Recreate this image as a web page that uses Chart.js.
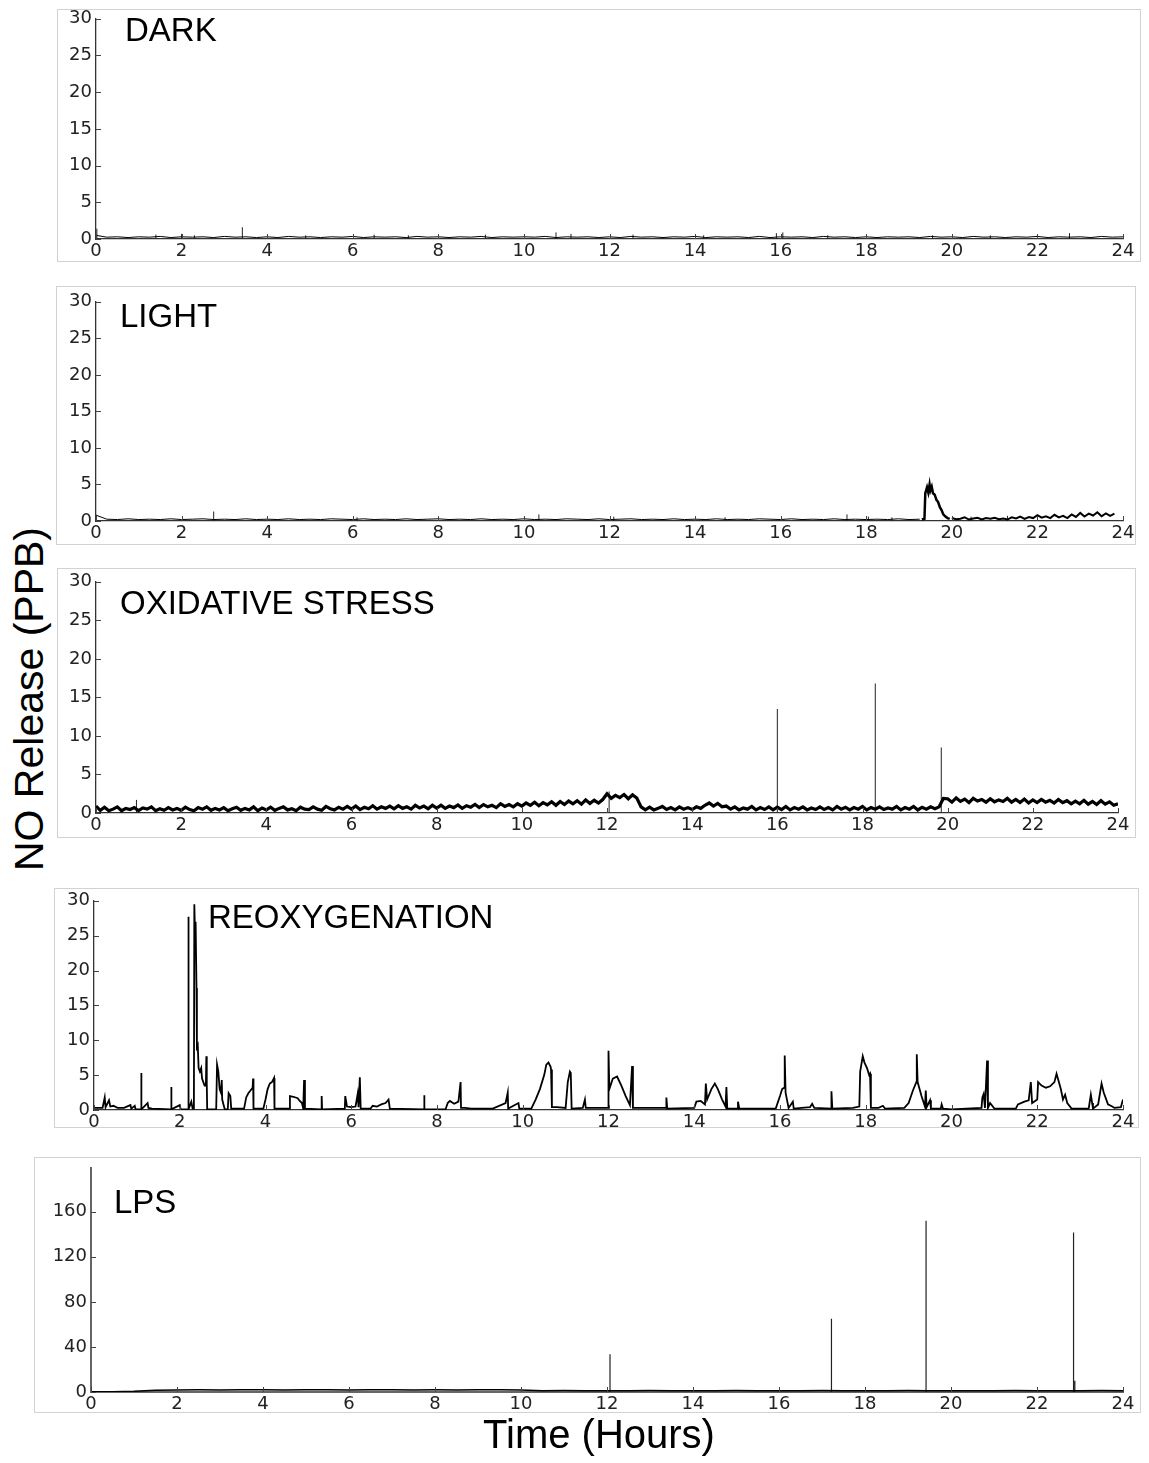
<!DOCTYPE html>
<html>
<head>
<meta charset="utf-8">
<script src="https://cdn.jsdelivr.net/npm/chart.js@4.4.1/dist/chart.umd.min.js"></script>
<style>
  body { margin: 0; background: #fff; width: 1149px; height: 1463px; position: relative; overflow: hidden; font-family: "Liberation Sans", Arial, sans-serif; }
  .frame { position: absolute; border: 1px solid #d2d2d2; box-sizing: border-box; }
  canvas { position: absolute; }
  .tag { position: absolute; font-size: 33px; line-height: 33px; color: #000; white-space: nowrap; }
  #ytitle { position: absolute; left: 29px; top: 699px; font-size: 41px; line-height: 41px; white-space: nowrap; transform: translate(-50%, -50%) rotate(-90deg); }
  #xtitle { position: absolute; left: 599px; top: 1434px; font-size: 40px; line-height: 40px; white-space: nowrap; transform: translate(-50%, -50%); }
</style>
</head>
<body>
<div class="frame" style="left:57px;top:9px;width:1084px;height:253px"></div>
<div class="frame" style="left:56px;top:286px;width:1080px;height:259px"></div>
<div class="frame" style="left:57px;top:568px;width:1079px;height:270px"></div>
<div class="frame" style="left:54px;top:888px;width:1085px;height:240px"></div>
<div class="frame" style="left:34px;top:1157px;width:1107px;height:256px"></div>

<canvas id="dark"></canvas>
<canvas id="light"></canvas>
<canvas id="oxid"></canvas>
<canvas id="reox"></canvas>
<canvas id="lps"></canvas>

<div class="tag" style="left:125px;top:13px">DARK</div>
<div class="tag" style="left:120px;top:299px">LIGHT</div>
<div class="tag" style="left:120px;top:586px">OXIDATIVE STRESS</div>
<div class="tag" style="left:208px;top:900px">REOXYGENATION</div>
<div class="tag" style="left:114px;top:1185px">LPS</div>

<div id="ytitle">NO Release (PPB)</div>
<div id="xtitle">Time (Hours)</div>

<script>
// axes ticks
const hourTicks = [0, 2, 4, 6, 8, 10, 12, 14, 16, 18, 20, 22, 24];
const ppbTicks = [0, 5, 10, 15, 20, 25, 30];
const lpsTicks = [0, 40, 80, 120, 160];

// DARK: baseline every 0.25 h
const darkStep = 0.25;
const darkBase = [
  0.5,0.25,0.3,0.2,0.3,0.25,0.35,0.2,
  0.3,0.25,0.3,0.2,0.35,0.25,0.3,0.2,
  0.3,0.2,0.35,0.25,0.3,0.2,0.3,0.25,
  0.35,0.2,0.3,0.25,0.3,0.2,0.35,0.25,
  0.3,0.2,0.3,0.25,0.35,0.2,0.3,0.25,
  0.3,0.25,0.35,0.2,0.3,0.25,0.3,0.2,
  0.3,0.2,0.35,0.25,0.3,0.2,0.3,0.25,
  0.35,0.2,0.3,0.25,0.3,0.2,0.35,0.2,
  0.3,0.25,0.3,0.2,0.35,0.25,0.3,0.2,
  0.3,0.2,0.3,0.25,0.3,0.2,0.35,0.25,
  0.3,0.2,0.35,0.25,0.3,0.2,0.3,0.25,
  0.35,0.2,0.3,0.25,0.3,0.2,0.35,0.25,
  0.3
];
const darkSpikeTimes   = [0.02, 1.4, 2.0, 2.3, 3.42, 4.9, 6.5, 7.3, 9.1, 10.75, 11.1, 12.55, 14.2, 15.9, 16.05, 17.1, 19.55, 20.9, 22.0, 22.75];
const darkSpikeHeights = [1.4, 0.6, 0.7, 0.5, 1.6, 0.5, 0.6, 0.5, 0.6, 0.9, 0.7, 0.6, 0.5, 0.8, 0.9, 0.5, 0.5, 0.5, 0.6, 0.8];

// LIGHT
const lightStep = 0.25;
const lightBase = [
  0.8,0.25,0.2,0.3,0.2,0.25,0.2,0.3,
  0.2,0.25,0.3,0.2,0.25,0.2,0.3,0.2,
  0.25,0.2,0.3,0.2,0.25,0.2,0.3,0.25,
  0.2,0.3,0.2,0.25,0.2,0.3,0.2,0.25,
  0.3,0.2,0.25,0.2,0.3,0.2,0.25,0.2,
  0.3,0.2,0.25,0.2,0.3,0.25,0.2,0.3,
  0.2,0.25,0.3,0.2,0.25,0.2,0.3,0.2,
  0.25,0.2,0.3,0.2,0.25,0.2,0.3,0.25,
  0.2,0.3,0.2,0.25,0.2,0.3,0.2,0.25,
  0.2,0.25,0.2,0.3,0.2,0.25
];
const lightBumpTimes  = [19.3, 19.36, 19.38, 19.42, 19.45, 19.48, 19.5, 19.53, 19.56, 19.6, 19.64, 19.68, 19.72, 19.76, 19.8, 19.85, 19.9, 19.95];
const lightBumpValues = [0.2, 0.3, 3.8, 4.6, 3.9, 5.0, 4.2, 4.7, 3.8, 3.6, 2.9, 2.6, 1.9, 1.5, 0.9, 0.6, 0.4, 0.3];
const lightTailStart = 20.0;
const lightTailStep = 0.1;
const lightTail = [
  0.4,0.25,0.3,0.5,0.2,0.35,0.45,0.2,0.4,0.3,
  0.45,0.25,0.35,0.2,0.5,0.35,0.6,0.3,0.55,0.4,
  0.8,0.45,0.65,0.4,0.85,0.5,0.7,0.4,0.9,0.55,
  1.1,0.6,1.0,0.75,1.2,0.65,1.05,0.7,1.0
];
const lightSpikeTimes   = [2.75, 6.1, 10.35, 12.1, 14.7, 17.55, 18.05, 18.6, 20.45, 21.3];
const lightSpikeHeights = [1.3, 0.5, 0.9, 0.6, 0.5, 0.9, 0.6, 0.5, 0.6, 0.7];

// OXIDATIVE STRESS: every 0.1 h
const oxidStep = 0.1;
const oxidBase = [
  0.9,0.35,0.75,0.3,0.5,0.8,0.3,0.6,0.45,0.7,
  0.3,0.65,0.5,0.8,0.3,0.55,0.35,0.7,0.4,0.6,
  0.35,0.75,0.45,0.3,0.7,0.5,0.8,0.35,0.6,0.4,
  0.7,0.3,0.55,0.75,0.35,0.6,0.4,0.8,0.3,0.65,
  0.4,0.75,0.35,0.6,0.8,0.4,0.55,0.3,0.75,0.5,
  0.45,0.8,0.5,0.35,0.85,0.55,0.4,0.75,0.5,0.85,
  0.5,0.9,0.45,0.75,0.55,0.95,0.5,0.8,0.6,0.9,
  0.55,0.95,0.6,0.8,0.5,1.0,0.65,0.9,0.55,1.0,
  0.65,1.0,0.6,0.9,0.7,1.05,0.6,0.95,0.75,1.1,
  0.7,1.1,0.8,1.0,0.7,1.2,0.85,1.1,0.8,1.2,
  0.9,1.3,1.0,1.4,0.95,1.35,1.05,1.45,1.0,1.5,
  1.1,1.55,1.2,1.6,1.15,1.7,1.25,1.65,1.3,1.75,
  2.5,1.9,2.3,2.0,2.4,1.85,2.35,1.95,0.8,0.4,
  0.75,0.4,0.6,0.85,0.45,0.7,0.4,0.8,0.5,0.7,
  0.45,0.8,0.6,1.0,1.3,0.9,1.25,0.8,0.9,0.5,
  0.8,0.4,0.65,0.5,0.85,0.4,0.7,0.45,0.8,0.4,
  0.75,0.45,0.85,0.4,0.7,0.5,0.8,0.4,0.65,0.45,
  0.8,0.45,0.7,0.4,0.85,0.5,0.75,0.4,0.7,0.5,
  0.85,0.4,0.7,0.5,0.8,0.45,0.65,0.5,0.85,0.4,
  0.7,0.5,0.85,0.4,0.75,0.5,0.8,0.55,0.8,1.9,
  1.85,1.4,1.95,1.5,1.8,1.35,1.9,1.55,1.75,1.4,
  1.85,1.45,1.7,1.5,1.9,1.4,1.75,1.35,1.8,1.3,
  1.7,1.35,1.75,1.4,1.65,1.3,1.75,1.35,1.6,1.2,
  1.55,1.2,1.65,1.15,1.5,1.1,1.6,1.15,1.45,1.0,
  1.2
];
const oxidSpikeTimes   = [0.95, 12.05, 16.0, 18.3, 19.85];
const oxidSpikeHeights = [1.7, 2.8, 13.5, 16.8, 8.5];

// REOXYGENATION: [hour, ppb]
const reoxTrace = [
  [0,0.3],[0.2,0.3],[0.25,1.8],[0.27,0.4],[0.35,1.4],[0.38,0.5],[0.45,0.6],[0.55,0.3],[0.7,0.3],[0.85,0.7],[0.87,0.2],
  [0.95,0.6],[0.97,0.1],[1.1,0.1],[1.1,5.3],[1.11,0.1],[1.25,1.0],[1.27,0.3],[1.35,0.2],[1.8,0.1],[1.8,3.3],[1.81,0.1],
  [2.0,0.7],[2.02,0.1],[2.2,0.1],[2.2,27.7],[2.21,0.1],[2.27,1.2],[2.3,0.2],[2.33,0.2],[2.34,29.5],[2.36,24],[2.37,27],
  [2.39,17.5],[2.4,9],[2.42,9.3],[2.44,6],[2.47,5.5],[2.5,6],[2.52,4.5],[2.55,4.0],[2.58,3.5],[2.61,3.5],[2.62,7.7],
  [2.63,3.8],[2.64,0.1],[2.85,0.1],[2.87,6.5],[2.9,5.5],[2.93,3.0],[2.96,2.5],[2.98,4.3],[2.99,1.5],[3.02,0.8],[3.05,0.1],
  [3.12,0.1],[3.14,2.4],[3.18,2.0],[3.2,0.2],[3.5,0.2],[3.55,1.8],[3.6,2.4],[3.65,2.8],[3.7,3.2],[3.71,4.5],[3.72,0.2],
  [3.95,0.2],[4.0,1.5],[4.05,3.0],[4.1,3.8],[4.15,4.0],[4.2,4.6],[4.21,0.2],[4.55,0.2],[4.57,2.0],[4.65,1.9],[4.75,1.7],
  [4.8,1.3],[4.85,1.0],[4.88,0.2],[4.9,4.3],[4.92,0.2],[5.3,0.1],[5.31,2.0],[5.32,0.1],[5.85,0.2],[5.86,2.0],[5.9,0.5],
  [6.0,0.4],[6.1,0.5],[6.15,2.3],[6.17,0.4],[6.2,4.7],[6.22,0.2],[6.45,0.2],[6.5,0.6],[6.6,0.5],[6.7,0.8],[6.8,1.0],
  [6.87,1.5],[6.9,0.2],[7.7,0.1],[7.7,2.1],[7.71,0.1],[8.2,0.1],[8.25,1.0],[8.3,1.3],[8.4,0.9],[8.5,1.2],[8.55,4.0],
  [8.56,0.3],[8.65,0.3],[8.8,0.2],[9.3,0.2],[9.6,1.0],[9.65,2.5],[9.66,0.2],[9.9,1.0],[9.92,0.2],[10.2,0.2],[10.3,1.5],
  [10.4,3.0],[10.5,5.0],[10.55,6.5],[10.6,6.8],[10.65,6.2],[10.66,5.8],[10.68,0.4],[10.8,0.4],[11.0,0.3],[11.05,4.0],
  [11.1,5.5],[11.12,5.3],[11.14,0.2],[11.4,0.3],[11.45,1.5],[11.47,0.3],[12.0,0.3],[12.0,8.5],[12.02,3.0],[12.1,4.5],
  [12.2,4.8],[12.3,3.5],[12.4,2.0],[12.5,0.7],[12.55,6.3],[12.57,0.3],[13.0,0.3],[13.35,0.3],[13.35,1.8],[13.37,0.2],
  [14.0,0.3],[14.05,1.2],[14.15,1.3],[14.25,0.8],[14.27,3.8],[14.3,1.5],[14.4,3.0],[14.48,3.8],[14.55,3.0],[14.65,1.5],
  [14.73,0.5],[14.75,3.3],[14.77,0.2],[15.0,0.2],[15.02,1.2],[15.05,0.2],[15.5,0.2],[15.9,0.2],[16.0,2.0],[16.05,3.0],
  [16.1,3.2],[16.11,7.8],[16.13,2.5],[16.2,0.3],[16.3,1.2],[16.32,0.2],[16.7,0.4],[16.75,0.9],[16.8,0.3],[17.2,0.2],
  [17.2,2.7],[17.22,0.2],[17.7,0.3],[17.85,0.5],[17.87,5.5],[17.93,7.7],[17.97,6.8],[18.03,6.0],[18.08,5.0],[18.1,5.2],
  [18.12,0.3],[18.3,0.3],[18.4,0.6],[18.45,0.2],[18.9,0.3],[19.0,1.0],[19.1,2.8],[19.18,4.0],[19.19,8.0],[19.21,4.0],
  [19.3,2.0],[19.38,0.5],[19.4,2.8],[19.42,0.4],[19.5,1.4],[19.52,0.2],[19.75,0.2],[19.77,0.8],[19.8,0.2],[20.0,0.1],
  [20.7,0.3],[20.72,1.8],[20.75,2.3],[20.78,0.3],[20.83,7.1],[20.85,0.3],[20.9,1.0],[21.0,0.2],[21.5,0.2],[21.55,0.8],
  [21.7,1.2],[21.8,1.4],[21.85,4.0],[21.88,1.0],[22.0,1.5],[22.02,4.0],[22.1,3.5],[22.2,3.2],[22.3,3.4],[22.4,4.0],
  [22.45,5.2],[22.55,3.0],[22.6,1.5],[22.65,2.2],[22.7,1.0],[22.8,0.2],[23.2,0.2],[23.25,2.2],[23.28,1.0],[23.3,0.2],
  [23.42,0.8],[23.5,3.8],[23.55,2.5],[23.65,0.8],[23.75,0.5],[23.8,0.3],[23.95,0.4],[24.0,1.5]
];

// LPS
const lpsStep = 0.5;
const lpsBase = [
  0.3,0.3,0.6,1.6,1.8,1.9,1.8,2.0,1.9,1.8,
  2.0,1.9,1.8,1.9,2.0,1.8,1.9,1.8,2.0,1.9,
  1.7,1.2,1.3,1.2,1.1,1.2,1.3,1.2,1.1,1.2,
  1.3,1.2,1.2,1.1,1.3,1.2,1.1,1.2,1.3,1.2,
  1.1,1.2,1.2,1.3,1.2,1.1,1.2,1.3,1.2
];
const lpsSpikeTimes   = [12.07, 17.22, 19.42, 22.85, 22.88];
const lpsSpikeHeights = [33.5, 65, 152, 141.5, 10];

// helpers
function onGrid(start, step, values) {
  return values.map((v, i) => ({ x: Math.round((start + i * step) * 1000) / 1000, y: v }));
}
function pairs(times, values) {
  return times.map((t, i) => ({ x: t, y: values[i] }));
}
function spikes(times, heights) {
  const pts = [];
  times.forEach((t, i) => { pts.push({ x: t, y: 0 }, { x: t, y: heights[i] }, { x: t, y: null }); });
  return pts;
}
function line(points, width, color) {
  return { data: points, borderColor: color || '#000', borderWidth: width, pointRadius: 0, tension: 0, spanGaps: false };
}

// MATLAB-style tick marks pointing into the plot
const innerTicks = {
  id: 'innerTicks',
  afterDraw(chart) {
    const { ctx, chartArea: a, scales } = chart;
    ctx.save();
    ctx.strokeStyle = '#444';
    ctx.lineWidth = 1;
    ctx.beginPath();
    scales.x.ticks.forEach(t => {
      const px = Math.round(scales.x.getPixelForValue(t.value)) + 0.5;
      ctx.moveTo(px, a.bottom); ctx.lineTo(px, a.bottom - 5);
    });
    scales.y.ticks.forEach(t => {
      const py = Math.round(scales.y.getPixelForValue(t.value)) + 0.5;
      ctx.moveTo(a.left, py); ctx.lineTo(a.left + 5, py);
    });
    ctx.stroke();
    ctx.restore();
  }
};

const PAD_L = 40, PAD_T = 12, PAD_R = 22, PAD_B = 24;
const tickFont = { family: 'DejaVu Sans', size: 18 };

function makePanel(id, area, yMax, yTicks, datasets, axisColor, axisWidth) {
  const canvas = document.getElementById(id);
  canvas.width = area.r - area.l + PAD_L + PAD_R;
  canvas.height = area.b - area.t + PAD_T + PAD_B;
  canvas.style.left = (area.l - PAD_L) + 'px';
  canvas.style.top = (area.t - PAD_T) + 'px';
  canvas.style.width = canvas.width + 'px';
  canvas.style.height = canvas.height + 'px';
  const border = { display: true, color: axisColor || '#333', width: axisWidth || 1.3 };
  new Chart(canvas, {
    type: 'line',
    data: { datasets },
    options: {
      responsive: false,
      animation: false,
      events: [],
      layout: { padding: { left: 0, top: PAD_T, right: PAD_R, bottom: 0 } },
      plugins: { legend: { display: false }, tooltip: { enabled: false } },
      scales: {
        x: {
          type: 'linear', min: 0, max: 24,
          afterFit: s => { s.height = PAD_B; },
          afterBuildTicks: s => { s.ticks = hourTicks.map(v => ({ value: v })); },
          ticks: { autoSkip: false, maxRotation: 0, padding: 2, font: tickFont, color: '#222' },
          grid: { display: false, drawTicks: false },
          border
        },
        y: {
          min: 0, max: yMax,
          afterFit: s => { s.width = PAD_L; },
          afterBuildTicks: s => { s.ticks = yTicks.map(v => ({ value: v })); },
          ticks: { padding: 4, font: tickFont, color: '#222' },
          grid: { display: false, drawTicks: false },
          border
        }
      }
    },
    plugins: [innerTicks]
  });
}

makePanel('dark', { l: 96, t: 16, r: 1123, b: 239 }, 30, ppbTicks, [
  line(onGrid(0, darkStep, darkBase), 1),
  line(spikes(darkSpikeTimes, darkSpikeHeights), 1, '#222')
]);

makePanel('light', { l: 96, t: 299, r: 1123, b: 521 }, 30, ppbTicks, [
  line(onGrid(0, lightStep, lightBase), 1),
  line(pairs(lightBumpTimes, lightBumpValues), 2.5),
  line(onGrid(lightTailStart, lightTailStep, lightTail), 2),
  line(spikes(lightSpikeTimes, lightSpikeHeights), 1, '#222')
]);

makePanel('oxid', { l: 96, t: 579, r: 1118, b: 813 }, 30, ppbTicks, [
  line(onGrid(0, oxidStep, oxidBase), 3.2),
  line(spikes(oxidSpikeTimes, oxidSpikeHeights), 1, '#222')
]);

makePanel('reox', { l: 94, t: 898, r: 1123, b: 1110 }, 30, ppbTicks, [
  line(reoxTrace.map(p => ({ x: p[0], y: p[1] })), 1.8)
]);

makePanel('lps', { l: 91, t: 1165, r: 1123, b: 1392 }, 199, lpsTicks, [
  line(onGrid(0, lpsStep, lpsBase), 1.5),
  line(spikes(lpsSpikeTimes, lpsSpikeHeights), 1.2, '#222')
], '#666', 2);
</script>
</body>
</html>
